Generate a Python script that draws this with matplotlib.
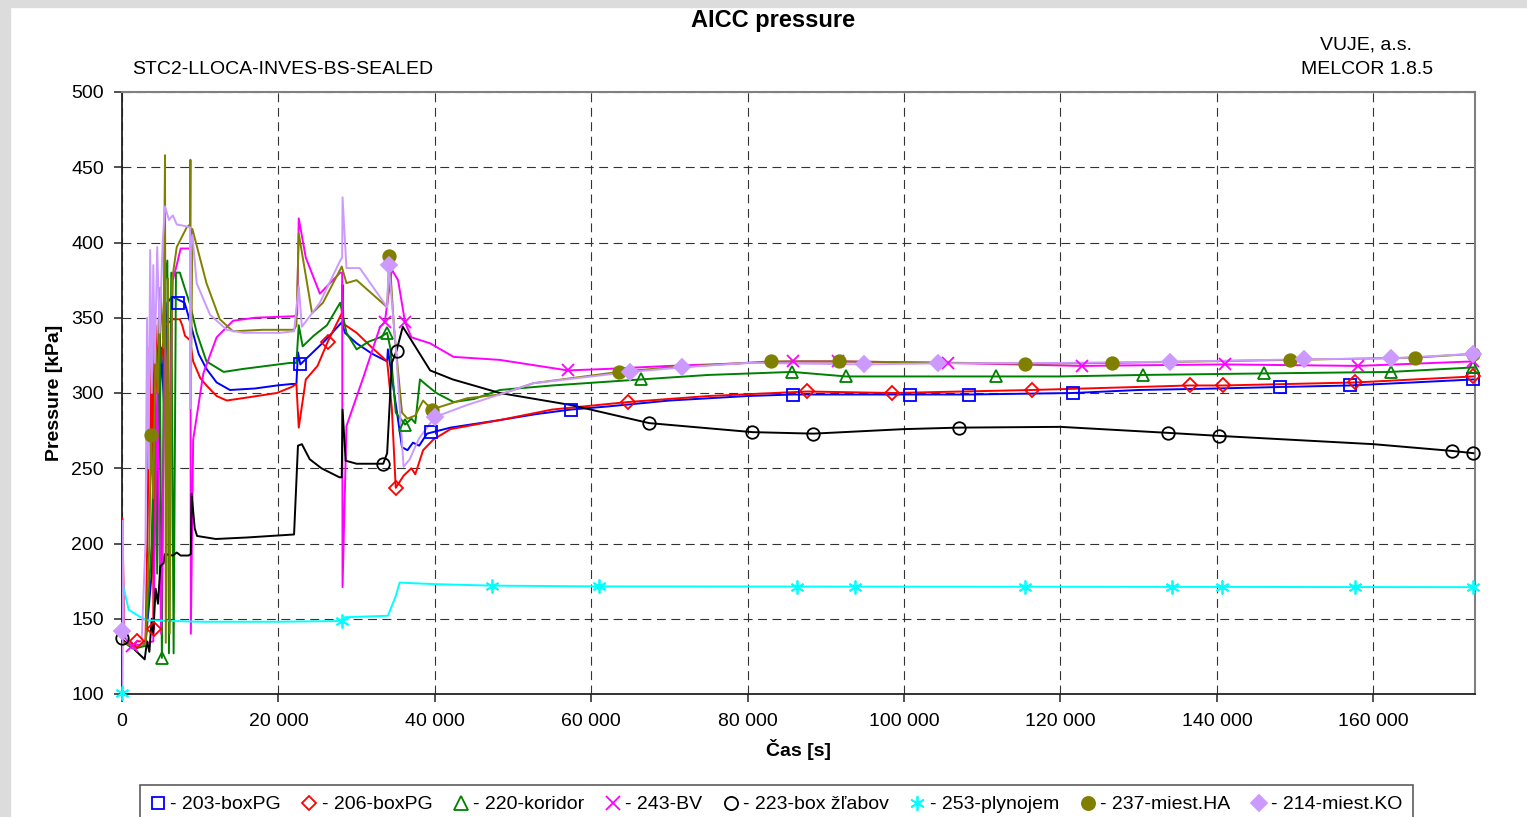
import numpy as np
import matplotlib
matplotlib.use("Agg")
from matplotlib import pyplot as plt
from matplotlib.lines import Line2D
from matplotlib.patches import Rectangle
from matplotlib.ticker import FuncFormatter, MultipleLocator

plt.rcParams['font.family'] = ['Liberation Sans', 'DejaVu Sans']

# ---- data (time [s], pressure [kPa]) ----
# 203-boxPG
t_203 = [0, 1500, 3000, 3800, 4200, 4600, 5000, 5400, 5800, 6400, 7200, 8000, 8500, 9800,
         10800, 12100, 13800, 17000, 19800, 21700, 22300, 22500, 22800, 24000, 26000, 28100,
         28500, 30000, 32000, 33900, 34000, 34800, 35800, 36500, 37200, 38000, 39000, 42000,
         48300, 53000, 57400, 62000, 70000, 80000, 85800, 100000, 108300, 121600, 130000,
         140000, 148100, 157000, 165000, 172800]
p_203 = [140, 131, 133, 180, 280, 230, 330, 290, 360, 364, 362, 360, 351, 326,
         316, 307, 302, 303, 305, 306, 306, 327, 319, 325, 335, 347,
         340, 333, 326, 321, 329, 300, 264, 262, 267, 265, 273, 277,
         282, 286, 289, 291, 295, 298, 299, 299, 299, 300, 302,
         303, 304, 305, 307, 309]
mt_203 = [7200, 22800, 39500, 57400, 85800, 100800, 108300, 121600, 148100, 157000, 172800]
mp_203 = [360, 319, 274, 289, 299, 299, 299, 300, 304, 305, 309]

# 206-boxPG
t_206 = [0, 50, 300, 1500, 1900, 3000, 3300, 3500, 3700, 3900, 4050, 4100, 4300, 4500, 4700,
         5000, 5500, 6500, 7400, 7700, 8060, 8700, 9100, 10000, 10800, 12100, 13400, 16000,
         19800, 21700, 22300, 22600, 23500, 25000, 26300, 28100, 28200, 28300, 30000, 32000,
         33900, 34500, 35000, 36000, 37000, 37500, 38500, 39800, 42000, 48300, 55000, 64700,
         75000, 87600, 98500, 116400, 136500, 140800, 157700, 172800]
p_206 = [140, 217, 138, 132, 135, 135, 220, 330, 260, 350, 143, 290, 345, 300, 350,
         320, 345, 349, 349, 345, 338, 335, 321, 310, 305, 298, 295, 297,
         300, 304, 306, 277, 309, 318, 334, 353, 372, 346, 340, 330,
         321, 290, 237, 245, 250, 246, 262, 269, 276, 282, 289, 294,
         298, 301, 300, 302, 305, 305, 307, 311]
mt_206 = [1900, 4050, 26300, 35000, 64700, 87600, 98500, 116400, 136500, 140800, 157700, 172800]
mp_206 = [135, 143, 334, 237, 294, 301, 300, 302, 305, 305, 307, 311]

# 220-koridor
t_220 = [0, 1500, 3000, 3800, 4200, 4500, 4800, 5100, 5400, 5800, 6000, 6300, 6600, 6900,
         7400, 8000, 8700, 9550, 10800, 13000, 15500, 21500, 22300, 22600, 23100, 24500,
         26200, 27900, 28700, 30000, 31500, 33000, 33900, 34300, 35000, 36200, 37000, 37500,
         38100, 39000, 40200, 42400, 45000, 48300, 55000, 66300, 75000, 85700, 92600, 100000,
         111800, 120000, 130600, 146000, 162200, 172800]
p_220 = [135, 130, 132, 200, 300, 180, 360, 124, 370, 388, 127, 380, 127, 380,
         380, 370, 359, 340, 321, 314, 316, 320, 320, 345, 331, 338,
         345, 360, 340, 329, 334, 337, 340, 330, 287, 279, 283, 280,
         309, 305, 300, 294, 296, 302, 305, 309, 312, 314, 311, 311,
         311, 311, 312, 313, 314, 317]
mt_220 = [5100, 33900, 36200, 66300, 85700, 92600, 111800, 130600, 146000, 162200, 172800]
mp_220 = [124, 340, 279, 309, 314, 311, 311, 312, 313, 314, 317]

# 243-BV
t_243 = [0, 1300, 2500, 4000, 4500, 5000, 5500, 6000, 6500, 7000, 7500, 8600, 8750, 8800,
         9100, 10400, 12100, 14200, 17000, 22000, 22400, 22600, 23500, 25300, 27900, 28150,
         28200, 28700, 30900, 33000, 33600, 34500, 35300, 36000, 36200, 37000, 39400, 42400,
         48300, 57000, 62000, 70000, 85800, 91600, 105600, 122700, 141000, 158000, 172800]
p_243 = [135, 132, 133, 135, 300, 140, 330, 250, 375, 385, 396, 396, 395, 140,
         269, 313, 337, 348, 350, 351, 352, 416, 390, 366, 380, 380,
         171, 278, 311, 344, 347, 382, 375, 353, 347, 337, 333, 324,
         322, 315, 316, 318, 321, 321, 320, 318, 319, 318, 321]
mt_243 = [1300, 33600, 36200, 57000, 85800, 91600, 105600, 122700, 141000, 158000, 172800]
mp_243 = [132, 347, 347, 315, 321, 321, 320, 318, 319, 318, 321]

# 223-box zlabov
t_223 = [0, 300, 1500, 2900, 3200, 3500, 3800, 4000, 4300, 4600, 4900, 5330, 5500, 6500,
         7000, 7500, 8500, 8800, 8900, 9300, 9600, 12000, 16000, 22000, 22500, 23000, 24000,
         25500, 27800, 28100, 28200, 28600, 30000, 33400, 33900, 34500, 35100, 35900, 37000,
         39400, 42300, 48300, 57400, 67400, 80600, 88400, 100000, 107000, 120000, 133800,
         140300, 160000, 170100, 172800]
p_223 = [137, 135, 130, 123, 135, 128, 150, 140, 170, 160, 185, 187, 193, 192,
         194, 192, 192, 193, 233, 210, 205, 203, 204, 206, 265, 266, 256,
         250, 244, 244, 289, 255, 253, 253, 260, 320, 328, 344, 335,
         315, 309, 300, 292, 280, 274, 273, 276, 277, 277.5, 273.5,
         271.5, 266, 261.5, 260]
mt_223 = [0, 33400, 35100, 67400, 80600, 88400, 107000, 133800, 140300, 170100, 172800]
mp_223 = [137, 253, 328, 280, 274, 273, 277, 273.5, 271.5, 261.5, 260]

# 253-plynojem
t_253 = [0, 150, 850, 2560, 3200, 10000, 20000, 28100, 28500, 34000, 35000, 35500, 40000,
         47300, 61000, 172800]
p_253 = [100.5, 172, 156, 150.5, 149, 148, 148, 148.5, 151, 152, 165, 174, 173,
         172, 171.5, 171]
mt_253 = [0, 28100, 47300, 61000, 86300, 93700, 115400, 134300, 140700, 157600, 172800]
mp_253 = [100.5, 148.5, 172, 171.5, 171, 171, 171, 171, 171, 171, 171]

# 237-miest.HA
t_237 = [0, 1500, 3000, 3500, 3700, 4000, 4300, 4600, 4900, 5300, 5500, 5600, 5900, 6100,
         6400, 7000, 8270, 8700, 8750, 8800, 9000, 10800, 12500, 14200, 18000, 22000, 22300,
         22600, 24300, 25700, 28100, 28700, 30000, 33900, 34200, 34800, 35800, 36500, 37500,
         38500, 39600, 44100, 48300, 52600, 63500, 70000, 83000, 91700, 115400, 126600,
         149400, 165300, 172800]
p_237 = [135, 131, 133, 200, 272, 230, 330, 300, 370, 330, 458, 134, 376, 140,
         375, 397, 410, 412, 455, 291, 409, 373, 349, 341, 342, 342, 345,
         406, 353, 360, 384, 373, 375, 357, 391, 342, 287, 283, 285,
         295, 289, 296.5, 299, 306.5, 314, 317, 321, 321, 319.5, 320,
         322, 323.5, 326]
mt_237 = [3700, 34200, 39600, 63500, 83000, 91700, 115400, 126600, 149400, 165300, 172800]
mp_237 = [272, 391, 289, 314, 321, 321, 319.5, 320, 322, 323.5, 326]

# 214-miest.KO
t_214 = [0, 30, 60, 250, 1500, 2500, 3000, 3200, 3400, 3600, 3800, 4000, 4200, 4500, 4800,
         5200, 5500, 6000, 6500, 7000, 8000, 8700, 8750, 8800, 9000, 9550, 11250, 13400,
         15500, 20200, 22000, 22600, 23000, 25300, 27900, 28150, 28200, 28700, 30400, 33900,
         34100, 35000, 36000, 36800, 37300, 38000, 40000, 44100, 48300, 52600, 65000, 71600,
         80000, 94900, 104300, 120000, 134000, 151100, 162300, 172800]
p_214 = [142, 100, 215, 140, 130, 133, 200, 350, 250, 395, 300, 385, 320, 397, 340,
         400, 424, 415, 418, 412, 411, 410, 290, 398, 405, 373, 352, 342,
         340, 340, 341, 371, 344, 360, 388, 390, 430, 383, 383, 357,
         385, 331, 251, 256, 262, 270, 284, 292, 299, 306.5, 314, 317,
         320, 319, 319.7, 320, 320.8, 322.4, 323, 326]
mt_214 = [0, 34100, 40000, 65000, 71600, 94900, 104300, 134000, 151100, 162300, 172800]
mp_214 = [142, 385, 284, 314, 317, 319, 319.7, 320.8, 322.4, 323, 326]

labels = ['- 203-boxPG', '- 206-boxPG', '- 220-koridor', '- 243-BV',
          '- 223-box žľabov', '- 253-plynojem', '- 237-miest.HA', '- 214-miest.KO']

series = [
    (t_203, p_203, mt_203, mp_203, '#0000ff', 's', 'none', 8),
    (t_206, p_206, mt_206, mp_206, '#ff0000', 'D', 'none', 7),
    (t_220, p_220, mt_220, mp_220, '#008000', '^', 'none', 9),
    (t_243, p_243, mt_243, mp_243, '#ff00ff', 'x', 'none', 9),
    (t_223, p_223, mt_223, mp_223, '#000000', 'o', 'none', 9),
    (t_253, p_253, mt_253, mp_253, '#00ffff', (6, 2, 0), 'none', 10),
    (t_237, p_237, mt_237, mp_237, '#808000', 'o', '#808000', 9),
    (t_214, p_214, mt_214, mp_214, '#cc99ff', 'D', '#cc99ff', 8),
]

fig = plt.figure(figsize=(15.27, 8.17), dpi=100)
fig.patch.set_facecolor('white')
# light gray frame strips of the original window
fig.patches.append(Rectangle((0, 1 - 7 / 817), 1, 7 / 817, transform=fig.transFigure,
                             color='#dcdcdc', zorder=0))
fig.patches.append(Rectangle((0, 0), 10 / 1527, 1, transform=fig.transFigure,
                             color='#dcdcdc', zorder=0))

ax = fig.add_axes([122 / 1527, 1 - 694 / 817, (1475 - 122) / 1527, (694 - 92) / 817])

handles = []
for (t, p, mt, mp, c, m, fc, ms), lab in zip(series, labels):
    ax.plot(t, p, color=c, lw=1.4, zorder=3)
    ax.plot(mt, mp, linestyle='none', marker=m, markersize=ms, markerfacecolor=fc,
            markeredgecolor=c, markeredgewidth=1.3, zorder=4, clip_on=False)
    handles.append(Line2D([], [], linestyle='none', marker=m, markersize=ms * 1.05,
                          markerfacecolor=fc, markeredgecolor=c, markeredgewidth=1.3))

ax.set_xlim(0, 173000)
ax.set_ylim(100, 500)
ax.xaxis.set_major_locator(MultipleLocator(20000))
ax.yaxis.set_major_locator(MultipleLocator(50))
ax.xaxis.set_major_formatter(FuncFormatter(lambda v, pos: '{:,}'.format(int(v)).replace(',', ' ')))
ax.tick_params(axis='both', labelsize=14, length=6, width=1.2, direction='out', color='#333333')
ax.tick_params(axis='y', pad=7)
ax.tick_params(axis='x', pad=8)
ax.grid(True, color='#333333', linestyle=(0, (8, 5)), linewidth=0.8)
ax.set_axisbelow(True)
for s in ['top', 'right']:
    ax.spines[s].set_color('#808080')
    ax.spines[s].set_linewidth(1.5)
for s in ['left', 'bottom']:
    ax.spines[s].set_color('#222222')
    ax.spines[s].set_linewidth(1.3)

ax.set_xlabel('Čas [s]', fontsize=14, fontweight='bold', labelpad=6)
ax.set_ylabel('Pressure [kPa]', fontsize=14, fontweight='bold', labelpad=6)

fig.text(773 / 1527, 1 - 21 / 817, 'AICC pressure', ha='center', va='center',
         fontsize=17, fontweight='bold')
fig.text(132 / 1527, 1 - 69 / 817, 'STC2-LLOCA-INVES-BS-SEALED', ha='left', va='center',
         fontsize=14)
fig.text(1366 / 1527, 1 - 45 / 817, 'VUJE, a.s.', ha='center', va='center', fontsize=14)
fig.text(1367 / 1527, 1 - 70 / 817, 'MELCOR 1.8.5', ha='center', va='center', fontsize=14)

leg = fig.legend(handles, labels, loc='upper left', bbox_to_anchor=(140 / 1527, 1 - 785 / 817),
                 ncol=8, fontsize=14, frameon=True, fancybox=False, handlelength=0.7,
                 handletextpad=0.3, columnspacing=1.1, borderpad=0.55, borderaxespad=0)
leg.get_frame().set_edgecolor('#333333')
leg.get_frame().set_linewidth(1.2)

fig.savefig('out.png', dpi=100)
